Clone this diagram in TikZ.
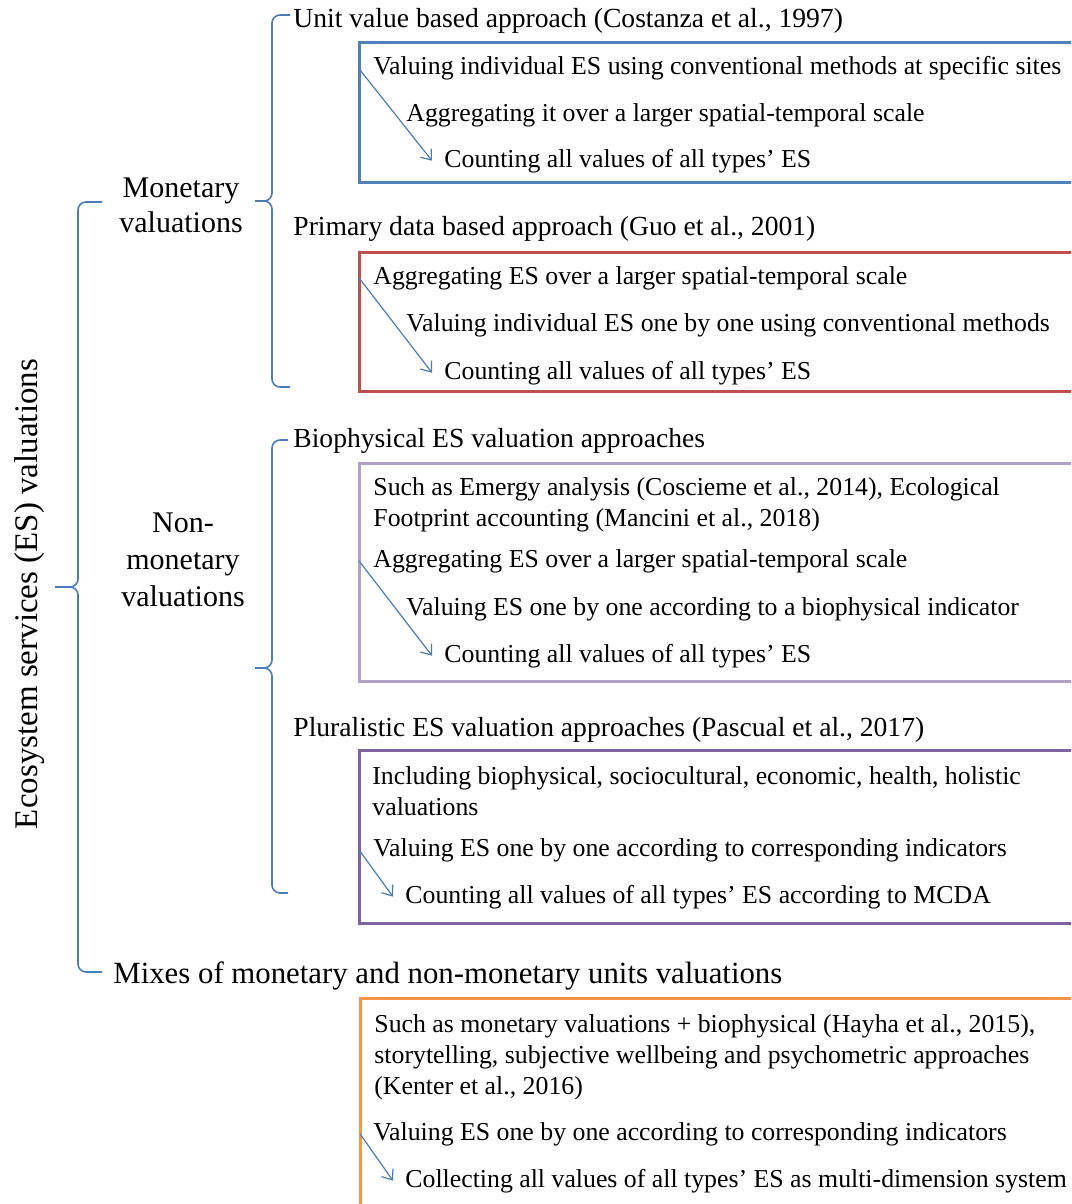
\documentclass[tikz,border=0pt]{standalone}
\usepackage{fontspec}
\setmainfont{Liberation Serif}
\usetikzlibrary{arrows.meta}

\definecolor{esblue}{HTML}{4A7EBB}
\definecolor{boxblue}{HTML}{4F81BD}
\definecolor{boxred}{HTML}{C0504D}
\definecolor{boxlilac}{HTML}{B3A2C7}
\definecolor{boxpurple}{HTML}{8064A2}
\definecolor{boxorange}{HTML}{F79646}

\begin{document}
\begin{tikzpicture}[x=0.5pt,y=-0.5pt,
  txt/.style={anchor=base west,inner sep=0pt,font=\fontsize{12.9}{15}\selectfont},
  head/.style={anchor=base west,inner sep=0pt,font=\fontsize{13.8}{16}\selectfont},
  big/.style={anchor=base,inner sep=0pt,font=\fontsize{15}{18}\selectfont},
  box/.style={line width=1.5pt},
  flow/.style={esblue,line width=0.6pt,-{Straight Barb[length=4.5pt,width=7pt]}},
  brc/.style={esblue,line width=0.8pt,rounded corners=4pt}]
  \useasboundingbox (0,0) rectangle (1071,1204);
  \clip (0,0) rectangle (1071,1204);

  \node[big,rotate=90,font=\fontsize{16.5}{18}\selectfont] (es) at (37,594) {Ecosystem services (ES) valuations};
  \node[big] (mon1) at (181,197) {Monetary};
  \node[big] (mon2) at (181,232) {valuations};
  \node[big] (non1) at (183,532) {Non-};
  \node[big] (non2) at (183,569) {monetary};
  \node[big] (non3) at (183,606) {valuations};
  \node[big,anchor=base west,font=\fontsize{15.4}{18}\selectfont] (mix) at (113,983) {Mixes of monetary and non-monetary units valuations};

  \coordinate (estop) at (102,202);
  \coordinate (esbot) at (102,972);
  \coordinate (esspine) at (78,587);
  \coordinate (estip) at (55,587);
  \draw[brc] (estop) -| (esspine) -- (estip);
  \draw[brc] (esbot) -| (esspine) -- (estip);

  \coordinate (montop) at (290,15);
  \coordinate (monbot) at (290,387);
  \coordinate (monspine) at (272,201);
  \coordinate (montip) at (255,201);
  \draw[brc] (montop) -| (monspine) -- (montip);
  \draw[brc] (monbot) -| (monspine) -- (montip);

  \coordinate (nontop) at (288,440);
  \coordinate (nonbot) at (288,893);
  \coordinate (nonspine) at (272,668);
  \coordinate (nontip) at (255,668);
  \draw[brc] (nontop) -| (nonspine) -- (nontip);
  \draw[brc] (nonbot) -| (nonspine) -- (nontip);

  \node[head] (h1) at (293,28) {Unit value based approach (Costanza et al., 1997)};
  \node[head] (h2) at (293,235) {Primary data based approach (Guo et al., 2001)};
  \node[head] (h3) at (293,447) {Biophysical ES valuation approaches};
  \node[head] (h4) at (293,736) {Pluralistic ES valuation approaches (Pascual et al., 2017)};

  \coordinate (bx1) at (359,43);
  \draw[box,boxblue] (bx1) rectangle (1090,182);
  \node[txt] (b1a) at (373,75) {Valuing individual ES using conventional methods at specific sites};
  \node[txt] (b1b) at (406,121) {Aggregating it over a larger spatial-temporal scale};
  \node[txt] (b1c) at (444,167) {Counting all values of all types’ ES};
  \draw[flow] (bx1 |- b1a.west) -- ([xshift=-6pt]b1c.west);

  \coordinate (bx2) at (359,252);
  \draw[box,boxred] (bx2) rectangle (1090,391);
  \node[txt] (b2a) at (373,284) {Aggregating ES over a larger spatial-temporal scale};
  \node[txt] (b2b) at (406,331) {Valuing individual ES one by one using conventional methods};
  \node[txt] (b2c) at (444,379) {Counting all values of all types’ ES};
  \draw[flow] (bx2 |- b2a.west) -- ([xshift=-6pt]b2c.west);

  \coordinate (bx3) at (359,463);
  \draw[box,boxlilac] (bx3) rectangle (1090,681);
  \node[txt] (b3a) at (373,495) {Such as Emergy analysis (Coscieme et al., 2014), Ecological};
  \node[txt] (b3b) at (373,526) {Footprint accounting (Mancini et al., 2018)};
  \node[txt] (b3c) at (373,567) {Aggregating ES over a larger spatial-temporal scale};
  \node[txt] (b3d) at (406,615) {Valuing ES one by one according to a biophysical indicator};
  \node[txt] (b3e) at (444,662) {Counting all values of all types’ ES};
  \draw[flow] (bx3 |- b3c.west) -- ([xshift=-6pt]b3e.west);

  \coordinate (bx4) at (359,750);
  \draw[box,boxpurple] (bx4) rectangle (1090,923);
  \node[txt] (b4a) at (372,784) {Including biophysical, sociocultural, economic, health, holistic};
  \node[txt] (b4b) at (372,815) {valuations};
  \node[txt] (b4c) at (373,856) {Valuing ES one by one according to corresponding indicators};
  \node[txt] (b4d) at (405,903) {Counting all values of all types’ ES according to MCDA};
  \draw[flow] (bx4 |- b4c.west) -- ([xshift=-6pt]b4d.west);

  \coordinate (bx5) at (360,998);
  \draw[box,boxorange] (bx5) rectangle (1090,1230);
  \node[txt] (b5a) at (374,1032) {Such as monetary valuations + biophysical (Hayha et al., 2015),};
  \node[txt] (b5b) at (374,1063) {storytelling, subjective wellbeing and psychometric approaches};
  \node[txt] (b5c) at (374,1094) {(Kenter et al., 2016)};
  \node[txt] (b5d) at (373,1140) {Valuing ES one by one according to corresponding indicators};
  \node[txt] (b5e) at (405,1187) {Collecting all values of all types’ ES as multi-dimension system};
  \draw[flow] (bx5 |- b5d.west) -- ([xshift=-6pt]b5e.west);
\end{tikzpicture}
\end{document}
